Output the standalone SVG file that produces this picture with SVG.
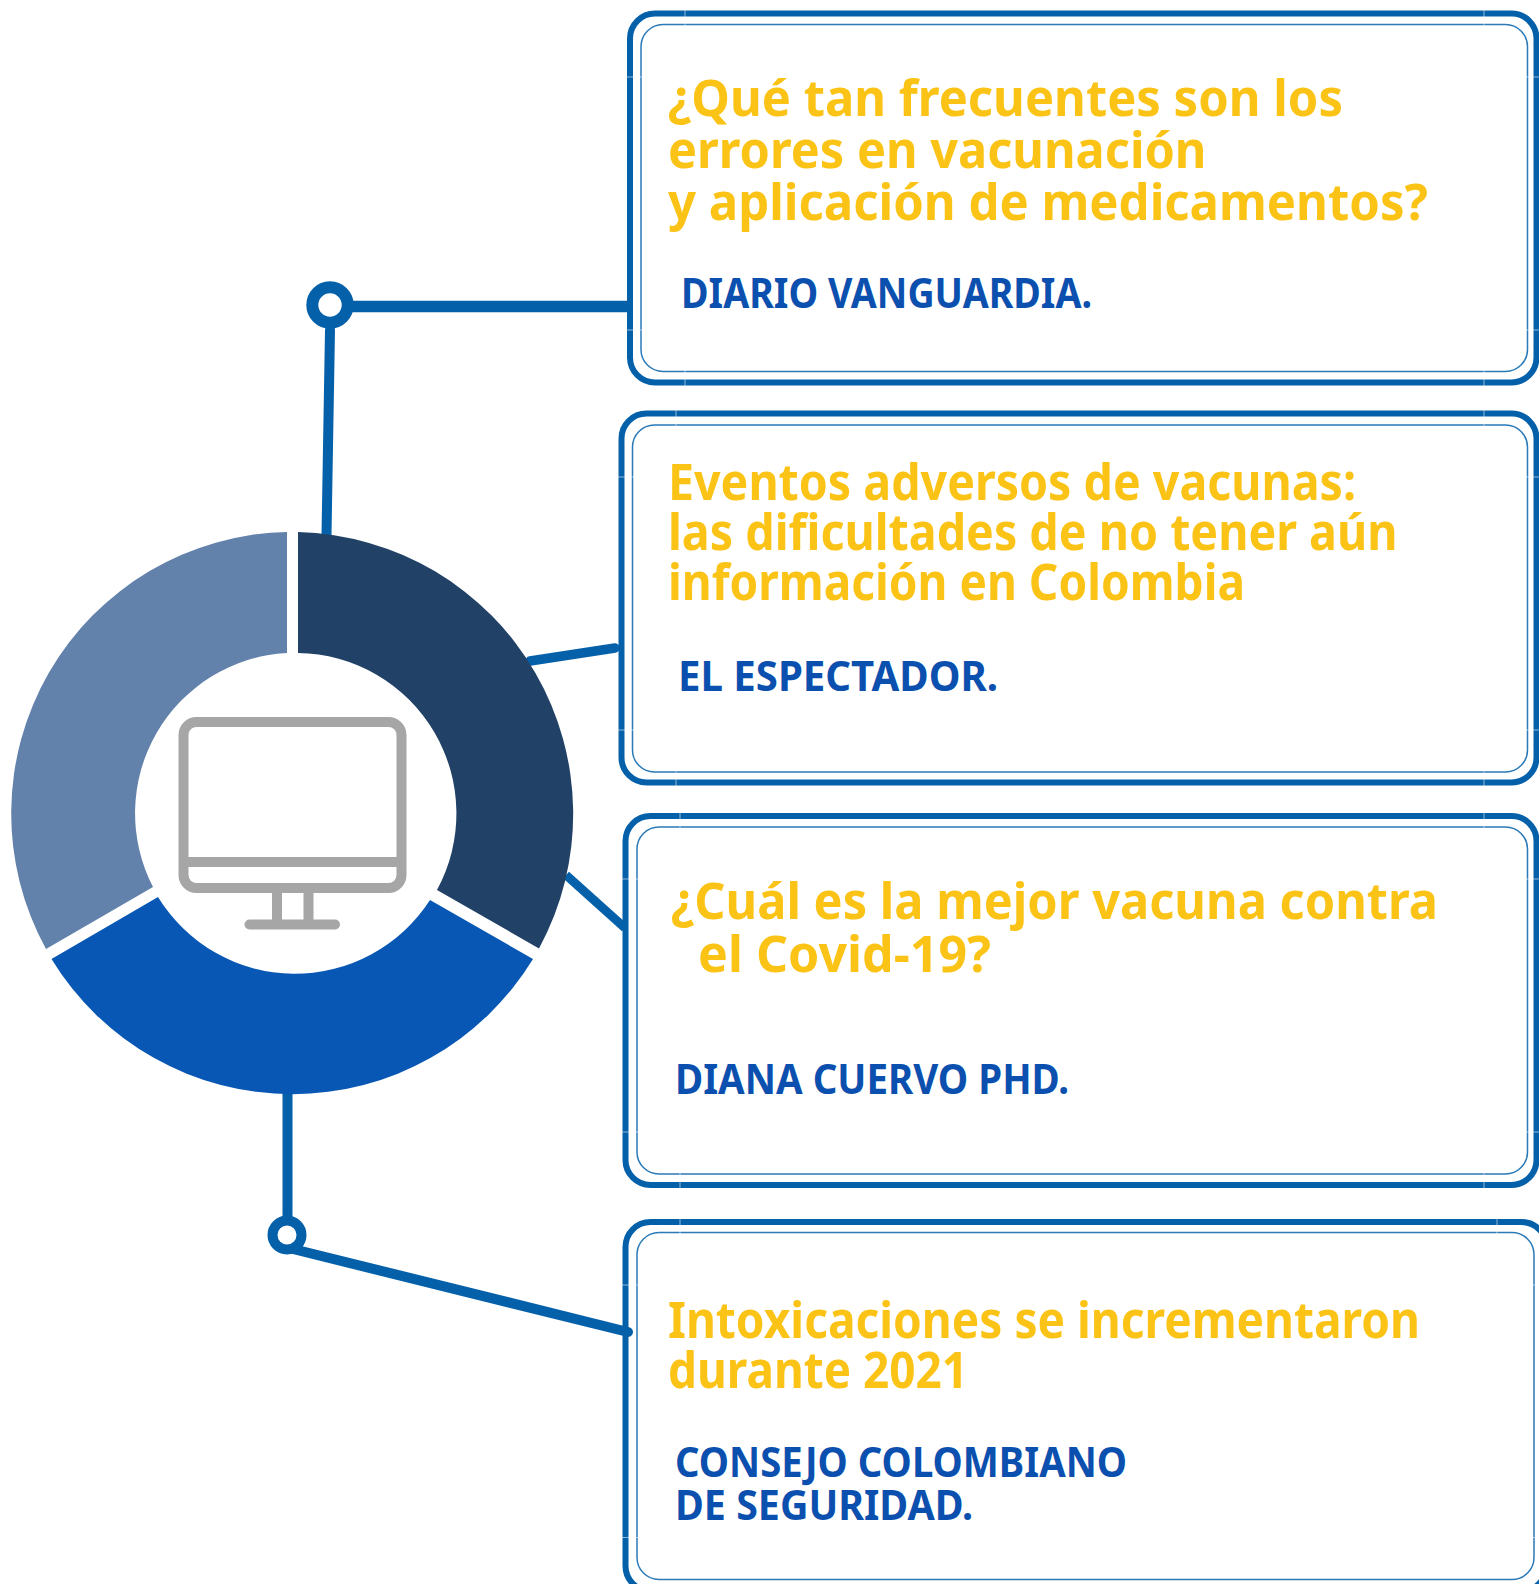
<svg xmlns="http://www.w3.org/2000/svg" width="1539" height="1584" viewBox="0 0 1539 1584">
<style>
.outer{fill:none;stroke:#0560AA;stroke-width:6}
.inner{fill:none;stroke:#2A7AB8;stroke-width:1.500}
.seam{fill:none;stroke:#fff;stroke-width:1;stroke-opacity:.55}
.h{font-family:"Noto Sans","Open Sans",sans-serif;font-weight:700;font-size:51px;fill:#FBC316}
.a{font-family:"Noto Sans","Open Sans",sans-serif;font-weight:700;font-size:41px;fill:#0B50AE}
.c{fill:none;stroke:#0560AA;stroke-linecap:round}
.m{fill:none;stroke:#A6A6A6;stroke-width:10}
</style>
<rect width="1539" height="1584" fill="#fff"/>
<g id="connectors">
<path class="c" d="M330 330L326.500 535" stroke-width="10"/>
<path d="M350 306.500H628" class="c" stroke-width="11.500" style="stroke-linecap:butt"/>
<path class="c" d="M530 661L615 648" stroke-width="9.500"/>
<path d="M566 875L625 928" class="c" stroke-width="9" style="stroke-linecap:butt"/>
<path d="M287.500 1090V1225" class="c" stroke-width="10" style="stroke-linecap:butt"/>
<path class="c" d="M293 1249L628 1332" stroke-width="10"/>
</g>
<g id="hub">
<path fill="#6282AB" d="M287 532A281.500 281.500 0 0 0 46 949L153 887A160.500 160.500 0 0 1 287 653Z"/>
<path fill="#214266" d="M298 532A282 282 0 0 1 539 948.500L437 890A160.500 160.500 0 0 0 298 653Z"/>
<path fill="#0857B4" d="M51.500 959L158 897A160.500 160.500 0 0 0 430 900L533 959A282 282 0 0 1 51.500 959Z"/>
</g>
<g id="monitor">
<rect class="m" x="183.500" y="722" width="218" height="166" rx="13"/>
<path class="m" d="M184 862H402M277 893V924M308.500 893V924"/>
<path d="M249.500 924.500H335" fill="none" stroke="#A6A6A6" stroke-width="10" stroke-linecap="round"/>
</g>
<g id="dot-1"><circle cx="330" cy="305" r="17.700" fill="#fff" stroke="#0560AA" stroke-width="12"/></g>
<g id="dot-2"><circle cx="287" cy="1235" r="14.500" fill="#fff" stroke="#0560AA" stroke-width="10"/></g>
<g id="box-1">
<rect class="outer" x="630" y="13.500" width="906.500" height="369" rx="25"/>
<rect class="inner" x="641" y="24.500" width="886.500" height="347" rx="22"/>
<path class="seam" d="M685 10V26M1484 10V26M685 370V386M1484 370V386M626 77H642M1526 77H1539M626 330H642M1526 330H1539"/>
<text class="h" x="668" y="116" textLength="675" lengthAdjust="spacingAndGlyphs">¿Qué tan frecuentes son los</text>
<text class="h" x="668" y="168" textLength="538.500" lengthAdjust="spacingAndGlyphs">errores en vacunación</text>
<text class="h" x="668" y="220" textLength="760" lengthAdjust="spacingAndGlyphs">y aplicación de medicamentos?</text>
<text class="a" x="681" y="308" textLength="411" lengthAdjust="spacingAndGlyphs">DIARIO VANGUARDIA.</text>
</g>
<g id="box-2">
<rect class="outer" x="621.500" y="413.500" width="915" height="369" rx="25"/>
<rect class="inner" x="632.500" y="425" width="895" height="347" rx="22"/>
<path class="seam" d="M676 410V426M1484 410V426M676 770V786M1484 770V786M618 477H634M1526 477H1539M618 730H634M1526 730H1539"/>
<text class="h" x="668" y="500" textLength="688" lengthAdjust="spacingAndGlyphs">Eventos adversos de vacunas:</text>
<text class="h" x="668" y="550" textLength="729.500" lengthAdjust="spacingAndGlyphs">las dificultades de no tener aún</text>
<text class="h" x="668" y="600" textLength="577" lengthAdjust="spacingAndGlyphs">información en Colombia</text>
<text class="a" x="678" y="691" textLength="320" lengthAdjust="spacingAndGlyphs">EL ESPECTADOR.</text>
</g>
<g id="box-3">
<rect class="outer" x="625.500" y="816" width="911" height="369" rx="25"/>
<rect class="inner" x="637" y="827" width="890.500" height="347" rx="22"/>
<path class="seam" d="M680 812V828M1484 812V828M680 1172V1188M1484 1172V1188M622 879H638M1526 879H1539M622 1132H638M1526 1132H1539"/>
<text class="h" x="671" y="919" textLength="767" lengthAdjust="spacingAndGlyphs">¿Cuál es la mejor vacuna contra</text>
<text class="h" x="698" y="971.500" textLength="293" lengthAdjust="spacingAndGlyphs">el Covid-19?</text>
<text class="a" x="675" y="1094" textLength="394" lengthAdjust="spacingAndGlyphs">DIANA CUERVO PHD.</text>
</g>
<g id="box-4">
<rect class="outer" x="625.500" y="1222" width="921" height="369" rx="25"/>
<rect class="inner" x="637" y="1232.500" width="897" height="347" rx="22"/>
<path class="seam" d="M680 1218V1234M1497 1218V1234M622 1285H638M1532 1285H1539M622 1537.500H638M1532 1537.500H1539"/>
<text class="h" x="668" y="1338" textLength="752" lengthAdjust="spacingAndGlyphs">Intoxicaciones se incrementaron</text>
<text class="h" x="668" y="1387.500" textLength="300" lengthAdjust="spacingAndGlyphs">durante 2021</text>
<text class="a" x="675" y="1477" textLength="452" lengthAdjust="spacingAndGlyphs">CONSEJO COLOMBIANO</text>
<text class="a" x="675" y="1519.500" textLength="298" lengthAdjust="spacingAndGlyphs">DE SEGURIDAD.</text>
</g>
</svg>
